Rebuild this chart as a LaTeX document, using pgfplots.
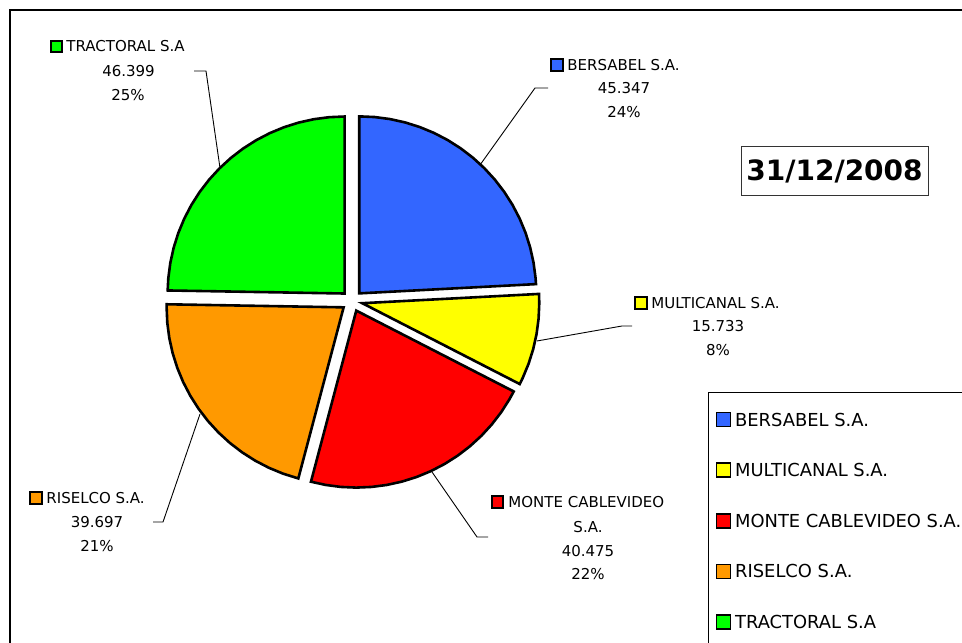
\documentclass[border=0pt]{standalone}
\usepackage{fontspec}
\setmainfont{DejaVu Sans}
\usepackage{pgfplots}
\pgfplotsset{compat=1.18}
\definecolor{pieblue}{RGB}{51,102,255}
\definecolor{pieyellow}{RGB}{255,255,0}
\definecolor{piered}{RGB}{255,0,0}
\definecolor{pieorange}{RGB}{255,153,0}
\definecolor{piegreen}{RGB}{0,255,0}
\newcommand\lbl{\fontsize{7.5}{9}\selectfont}
\begin{document}
\begin{tikzpicture}
\begin{axis}[name=pie, x=0.5pt, y=0.5pt,
    xmin=-352, xmax=610, ymin=-341, ymax=301,
    hide axis, clip=false,
    slice/.style={draw=black, line width=1.3pt, forget plot, data cs=polar},
    legend image code/.code={\draw[#1, line width=0.8pt] (0pt,-3.5pt) rectangle (7pt,3.5pt);},
    legend cell align=left,
    legend style={at={(axis cs:356,-91)}, anchor=north west, draw=black, line width=0.5pt,
        font=\fontsize{8.95}{10}\selectfont, row sep=17.5pt, column sep=2pt,
        inner xsep=3.5pt, inner ysep=9.6pt,
        nodes={inner sep=0pt, text height=6.5pt, text depth=0pt}},
]
% slices: (angle, radius), values 45.347 / 15.733 / 40.475 / 39.697 / 46.399
\addplot[slice, fill=pieblue, xshift=3.61pt, yshift=3.81pt] coordinates {
  (0,0) (90,177) (85,177) (80,177) (75,177) (70,177) (65,177) (60,177) (55,177) (50,177)
  (45,177) (40,177) (35,177) (30,177) (25,177) (20,177) (15,177) (10,177) (5,177) (3.00,177)} -- cycle;
\addplot[slice, fill=pieyellow, xshift=5.13pt, yshift=-1.10pt] coordinates {
  (0,0) (3.00,177) (0,177) (-5,177) (-10,177) (-15,177) (-20,177) (-25,177) (-27.18,177)} -- cycle;
\addplot[slice, fill=piered, xshift=2.13pt, yshift=-4.80pt] coordinates {
  (0,0) (-27.18,177) (-30,177) (-35,177) (-40,177) (-45,177) (-50,177) (-55,177) (-60,177)
  (-65,177) (-70,177) (-75,177) (-80,177) (-85,177) (-90,177) (-95,177) (-100,177) (-104.83,177)} -- cycle;
\addplot[slice, fill=pieorange, xshift=-4.19pt, yshift=-3.17pt] coordinates {
  (0,0) (-104.83,177) (-110,177) (-115,177) (-120,177) (-125,177) (-130,177) (-135,177) (-140,177)
  (-145,177) (-150,177) (-155,177) (-160,177) (-165,177) (-170,177) (-175,177) (-180,177) (-180.99,177)} -- cycle;
\addplot[slice, fill=piegreen, xshift=-3.68pt, yshift=3.74pt] coordinates {
  (0,0) (-180.99,177) (-185,177) (-190,177) (-195,177) (-200,177) (-205,177) (-210,177) (-215,177)
  (-220,177) (-225,177) (-230,177) (-235,177) (-240,177) (-245,177) (-250,177) (-255,177) (-260,177)
  (-265,177) (-270,177)} -- cycle;

\addlegendimage{draw=black, fill=pieblue}
\addlegendimage{draw=black, fill=pieyellow}
\addlegendimage{draw=black, fill=piered}
\addlegendimage{draw=black, fill=pieorange}
\addlegendimage{draw=black, fill=piegreen}
\legend{BERSABEL S.A., MULTICANAL S.A., MONTE CABLEVIDEO S.A., RISELCO S.A., TRACTORAL S.A}

% frame
\draw[line width=0.6pt] (axis cs:-342,291) rectangle (axis cs:640,-370);

% leader lines
\draw[line width=0.45pt] (axis cs:-158,230) -- (axis cs:-146,230) -- (axis cs:-132,133);
\draw[line width=0.45pt] (axis cs:196,213) -- (axis cs:183,213) -- (axis cs:128,136);
\draw[line width=0.45pt] (axis cs:185,-40) -- (axis cs:270,-25) -- (axis cs:280,-25);
\draw[line width=0.45pt] (axis cs:80,-171) -- (axis cs:125,-236) -- (axis cs:136,-236);
\draw[line width=0.45pt] (axis cs:-152,-113) -- (axis cs:-189,-221) -- (axis cs:-199,-221);

% data labels
\tikzset{key/.style={draw=black, line width=1pt, minimum size=5.6pt, inner sep=0pt},
         lab/.style={inner sep=0pt, font=\lbl}}
\node[key, fill=piegreen] at (axis cs:-295.5,254.5) {};
\node[lab, anchor=west] at (axis cs:-286,254.5) {TRACTORAL S.A};
\node[lab] at (axis cs:-223.5,230) {46.399};
\node[lab] at (axis cs:-224,206) {25\%};

\node[key, fill=pieblue] at (axis cs:205,236) {};
\node[lab, anchor=west] at (axis cs:215,236) {BERSABEL S.A.};
\node[lab] at (axis cs:272,213) {45.347};
\node[lab] at (axis cs:272,189) {24\%};

\node[key, fill=pieyellow] at (axis cs:289,-2) {};
\node[lab, anchor=west] at (axis cs:299,-2) {MULTICANAL S.A.};
\node[lab] at (axis cs:366,-25) {15.733};
\node[lab] at (axis cs:366,-49) {8\%};

\node[key, fill=piered] at (axis cs:145.5,-201) {};
\node[lab, anchor=west] at (axis cs:156,-201) {MONTE CABLEVIDEO};
\node[lab] at (axis cs:236,-226) {S.A.};
\node[lab] at (axis cs:236,-250) {40.475};
\node[lab] at (axis cs:236,-273) {22\%};

\node[key, fill=pieorange] at (axis cs:-316,-197) {};
\node[lab, anchor=west] at (axis cs:-306,-197) {RISELCO S.A.};
\node[lab] at (axis cs:-255,-221) {39.697};
\node[lab] at (axis cs:-255,-245) {21\%};

% date box
\node[draw=black!80, line width=0.5pt, minimum width=93.5pt, minimum height=24.5pt,
      inner sep=0pt, font=\fontsize{14}{16}\selectfont\bfseries] at (axis cs:482.5,129.5) {31/12/2008};
\end{axis}
\pgfresetboundingbox
\path[use as bounding box] (pie.south west) rectangle (pie.north east);
\end{tikzpicture}
\end{document}
